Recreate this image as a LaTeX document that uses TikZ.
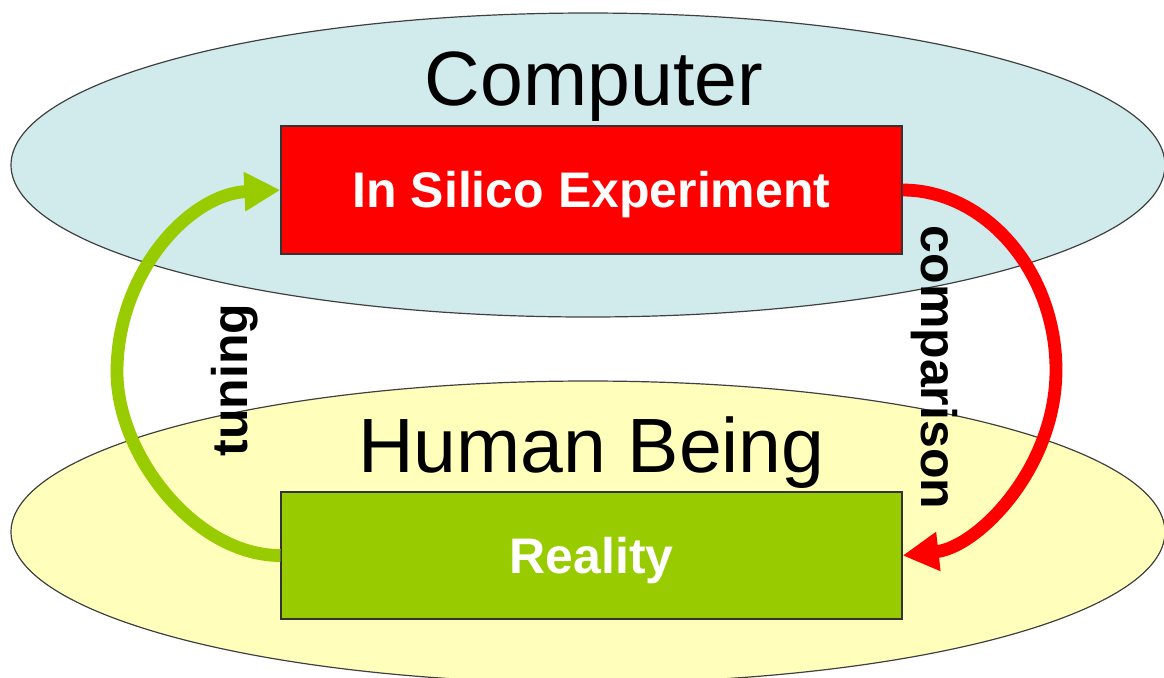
\documentclass[tikz,border=0pt]{standalone}
\usepackage{fontspec}
\setmainfont{Liberation Sans}
\usetikzlibrary{arrows.meta}
\definecolor{topfill}{RGB}{209,234,236}
\definecolor{botfill}{RGB}{255,255,187}
\definecolor{pred}{RGB}{255,0,0}
\definecolor{pgreen}{RGB}{153,204,0}
\definecolor{edgegray}{RGB}{64,64,64}
\begin{document}
\begin{tikzpicture}[x=0.5pt,y=-0.5pt,
  zone/.style={draw=edgegray,line width=0.6pt},
  title/.style={font=\fontsize{38.5}{46}\selectfont,anchor=base,inner sep=0pt},
  box/.style={draw=black!80,line width=0.6pt,minimum width=310.5pt,minimum height=64pt,
    inner sep=0pt,text=white,font=\bfseries\fontsize{25}{30}\selectfont,
    text height=17.9pt,text depth=0pt},
  loop/.style={line width=6.4pt,-{Triangle[length=18pt,width=18.5pt]}},
  lab/.style={font=\bfseries\fontsize{25}{30}\selectfont,inner sep=0pt}
]
\useasboundingbox (0,0) rectangle (1164,677);
\path[zone,fill=topfill] (588,165) ellipse [x radius=288.5pt, y radius=76pt];
\path[zone,fill=botfill] (588,532) ellipse [x radius=288.5pt, y radius=75.5pt];

\node[title] (comp) at (594,105) {Computer};
\node[title] (human) at (591.5,472) {Human Being};
\node[box,fill=pred] (silico) at (591.5,190) {In Silico Experiment};
\node[box,fill=pgreen,minimum height=63.5pt] (real) at (591.5,555.5) {Reality};
\node[lab,rotate=90] (tun) at (234.5,380) {tuning};
\node[lab,rotate=-90] (cmp) at (934.6,367.5) {comparison};

\draw[loop,draw=pgreen] (real.west) .. controls (195,555.5) and (117,455) .. (117,372)
  .. controls (117,272) and (190,194) .. (silico.west);
\draw[loop,draw=pred] (silico.east) .. controls (985,190) and (1056,271) .. (1056,370)
  .. controls (1056,468) and (978,547) .. (real.east);
\end{tikzpicture}
\end{document}
